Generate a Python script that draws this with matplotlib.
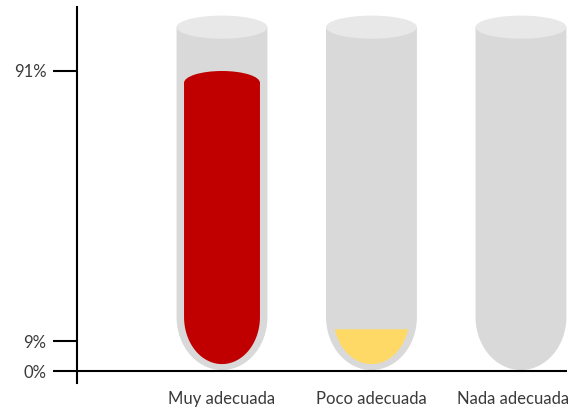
import numpy as np
import matplotlib
matplotlib.use('Agg')
import matplotlib.pyplot as plt
import matplotlib.transforms as mtransforms
from matplotlib.patches import Ellipse, Polygon

# datos
categorias = ['Muy adecuada', 'Poco adecuada', 'Nada adecuada']
valores = [91, 9, 0]
colores = ['#c00000', '#ffd966', '#d9d9d9']
ticks = [0, 9, 91]
tick_labels = ['0%', '9%', '91%']

plt.rcParams['font.family'] = ['Lato', 'DejaVu Sans']

fig = plt.figure(figsize=(5.73, 4.16), dpi=100)
ax = fig.add_axes([0.1344, 0.0793, 0.8551, 0.9038])
ax.set_xlim(-0.970, 2.308)
ax.set_ylim(-3.64, 110.4)

# geometria del tubo (en unidades de datos)
tubo_w = 0.304       # semi-ancho exterior
liq_w = 0.254        # semi-ancho del liquido
tubo_top = 104.3     # centro de la elipse superior
tapa_ry = 3.5
tubo_recto = 16.4    # donde empieza el fondo redondeado
tubo_fondo = 0.3
liq_fondo = 2.1
menisco_ry = 3.6
flat_lift = 3.7      # el corte plano queda algo por encima de la marca


def forma_u(cx, hw, y_top, y_recto, y_fondo, n=80):
    # rectangulo con fondo semieliptico
    t = np.linspace(np.pi, 2 * np.pi, n)
    xs = cx + hw * np.cos(t)
    ys = y_recto + (y_recto - y_fondo) * np.sin(t)
    pts = [(cx - hw, y_top)] + list(zip(xs, ys)) + [(cx + hw, y_top)]
    return pts


for i, (cat, val, col) in enumerate(zip(categorias, valores, colores)):
    # tubo
    ax.add_patch(Polygon(forma_u(i, tubo_w, tubo_top, tubo_recto, tubo_fondo),
                         closed=True, facecolor='#d9d9d9', edgecolor='none', zorder=1))
    ax.add_patch(Ellipse((i, tubo_top), 2 * tubo_w, 2 * tapa_ry,
                         facecolor='#e8e8e8', edgecolor='none', zorder=2))
    if val <= 0:
        continue
    if val > tubo_recto:
        # liquido con menisco
        yc = val - menisco_ry
        ax.add_patch(Polygon(forma_u(i, liq_w, yc, tubo_recto, liq_fondo),
                             closed=True, facecolor=col, edgecolor='none', zorder=3))
        ax.add_patch(Ellipse((i, yc), 2 * liq_w, 2 * menisco_ry,
                             facecolor=col, edgecolor='none', zorder=3))
    else:
        # solo el fondo, cortado en plano
        top = val + flat_lift
        t = np.linspace(np.pi, 2 * np.pi, 120)
        xs = i + liq_w * np.cos(t)
        ys = tubo_recto + (tubo_recto - liq_fondo) * np.sin(t)
        m = ys <= top
        pts = list(zip(xs[m], ys[m]))
        ax.add_patch(Polygon(pts, closed=True, facecolor=col, edgecolor='none', zorder=3))

# ejes
ax.axhline(0, color='black', lw=1.5, zorder=5)
for s in ['top', 'right', 'bottom']:
    ax.spines[s].set_visible(False)
ax.spines['left'].set_linewidth(1.5)
ax.spines['left'].set_zorder(6)

ax.set_yticks(ticks)
ax.set_yticklabels(tick_labels)
ax.tick_params(axis='y', length=17, width=1.5, pad=5, labelsize=12, labelcolor='#3a3a3a')
ax.set_xticks(range(len(categorias)))
ax.set_xticklabels(categorias)
ax.tick_params(axis='x', length=0, pad=6, labelsize=12, labelcolor='#3a3a3a')

# la ultima etiqueta queda desplazada a la izquierda para no salirse
ultima = ax.get_xticklabels()[-1]
ultima.set_transform(ultima.get_transform() +
                     mtransforms.ScaledTranslation(-0.08, 0, fig.dpi_scale_trans))

fig.savefig('out.png', dpi=100)
